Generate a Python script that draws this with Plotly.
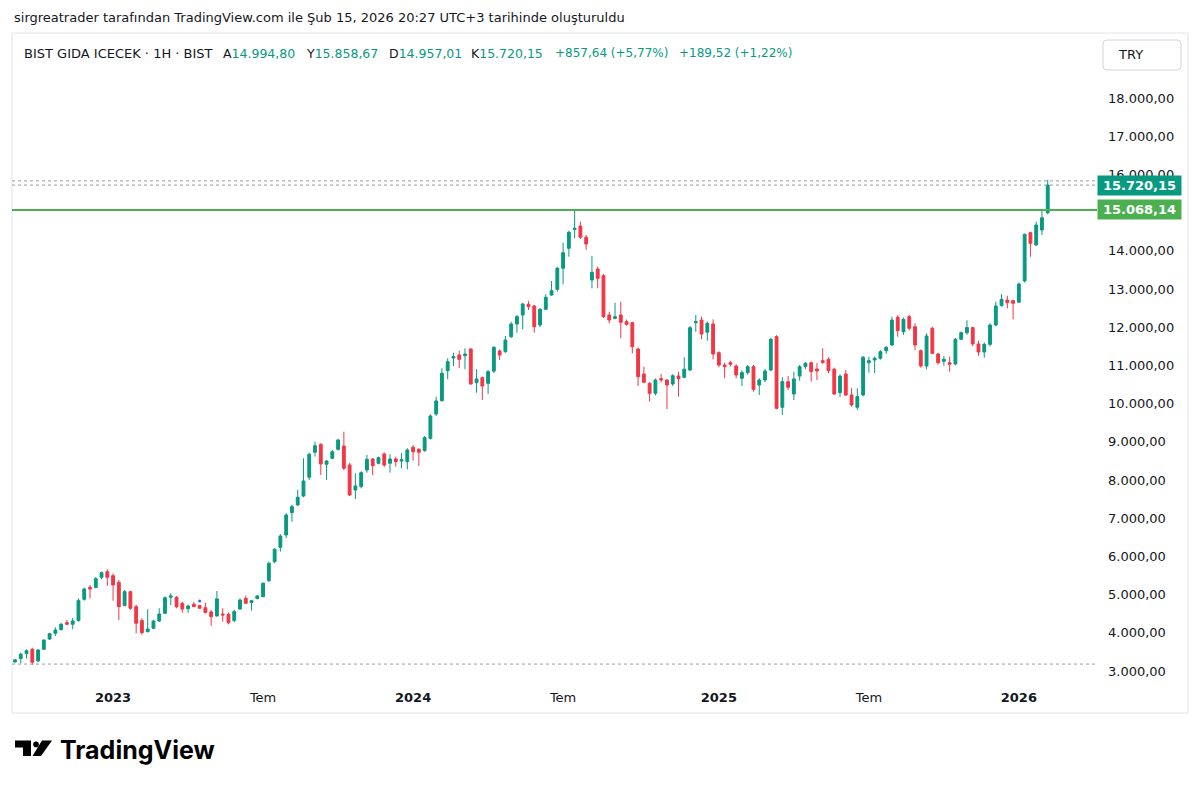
import pandas as pd
import plotly.graph_objects as go

# ---------------- data (weekly candles, BIST GIDA ICECEK) ----------------
start_date = "2022-09-05"
n_weeks = 180

opens = [3235, 3324, 3455, 3567, 3260, 3567, 3837, 3985, 4081, 4264,
         4222, 4318, 4876, 5190, 5182, 5452, 5599, 5494, 5321, 4709,
         5076, 4683, 4318, 4028, 4117, 4308, 4509, 4930, 4930, 4772,
         4630, 4745, 4712, 4657, 4546, 4441, 4491, 4483, 4318, 4622,
         4902, 4788, 4893, 4945, 5364, 5860, 6237, 6560, 7144, 7345,
         7580, 8070, 8725, 8934, 8410, 8567, 8803, 8889, 8392, 7738,
         7826, 8261, 8550, 8436, 8680, 8436, 8550, 8497, 8480, 8855,
         8803, 8768, 9090, 9727, 10075, 10861, 11193, 11272, 11254, 11429,
         10547, 10677, 10530, 10850, 11376, 11358, 11751, 12083, 12319, 12600,
         12555, 12057, 12468, 12843, 12992, 13542, 14065, 14560, 14649, 14356,
         13235, 13523, 13349, 12319, 12232, 12319, 12144, 12117, 11429, 10774,
         10530, 10269, 10652, 10617, 10513, 10722, 10688, 10879, 12117, 12188,
         11868, 12083, 11332, 11010, 11070, 10984, 10662, 10810, 10966, 10486,
         10617, 10879, 11751, 9903, 10573, 10251, 10722, 10966, 11070, 10905,
         11123, 11159, 10900, 10285, 10774, 10225, 9903, 10225, 11070, 11141,
         11185, 11385, 11534, 12259, 11882, 12275, 12013, 11385, 10984, 11971,
         11298, 11106, 11070, 11036, 11683, 11856, 11990, 11560, 11350, 11550,
         12057, 12565, 12712, 12695, 12654, 13209, 14474, 14152, 14544, 14994.80]

highs = [3300, 3481, 3567, 3610, 3570, 3820, 4000, 4142, 4260, 4334,
         4386, 4902, 5180, 5250, 5460, 5600, 5660, 5556, 5381, 5120,
         5100, 4730, 4380, 4615, 4340, 4641, 4950, 5034, 4960, 4810,
         4740, 4810, 4720, 4788, 4600, 5093, 4640, 4530, 4600, 4900,
         4970, 4858, 4990, 5320, 5860, 6220, 6580, 7130, 7350, 7738,
         8567, 8720, 9002, 8960, 8520, 8780, 9080, 9264, 8450, 8175,
         8230, 8654, 8570, 8610, 8720, 8672, 8610, 8700, 8830, 8915,
         8830, 9150, 9720, 10180, 10924, 11185, 11332, 11385, 11447, 11447,
         10900, 10706, 10880, 11500, 11420, 11769, 12140, 12320, 12640, 12686,
         12580, 12500, 12861, 13209, 13585, 14212, 14525, 15068.14, 14765, 14413,
         13864, 13585, 13390, 12406, 12641, 12668, 12200, 12144, 11465, 10966,
         10557, 10660, 10774, 10640, 10770, 10835, 11212, 12030, 12319, 12275,
         12144, 12206, 11370, 11070, 11120, 11030, 10870, 11010, 11010, 10662,
         10900, 11720, 11790, 10688, 10720, 10835, 11010, 11080, 11100, 11057,
         11447, 11212, 10940, 10760, 10879, 10400, 10400, 11250, 11230, 11230,
         11400, 11507, 12275, 12319, 12250, 12320, 12100, 11420, 11840, 12010,
         11330, 11245, 11230, 11720, 11890, 12180, 12000, 11650, 11600, 12100,
         12668, 12869, 12824, 12712, 13170, 14450, 14500, 14760, 15086, 15858.67]

lows = [3220, 3200, 3332, 3157, 3240, 3560, 3810, 3915, 4060, 4210,
        4090, 4290, 4840, 4902, 5170, 5400, 5225, 4840, 4334, 4700,
        4600, 3985, 3950, 4010, 4090, 4280, 4490, 4727, 4640, 4525,
        4520, 4680, 4630, 4510, 4183, 4420, 4291, 4220, 4280, 4600,
        4760, 4580, 4880, 4930, 5330, 5820, 6123, 6480, 6908, 7320,
        7546, 8000, 8610, 8130, 8000, 8540, 8770, 8261, 7580, 7502,
        7780, 8191, 8130, 8410, 8340, 8191, 8350, 8306, 8280, 8507,
        8366, 8740, 9060, 9675, 10050, 10636, 10984, 10924, 10900, 10490,
        10285, 10094, 10250, 10800, 11141, 11330, 11720, 11856, 11945, 12450,
        11856, 12000, 12450, 12820, 12930, 13123, 13845, 14327, 14303, 14022,
        13018, 13018, 12240, 12102, 12210, 11709, 12040, 11315, 10460, 10530,
        10050, 10210, 10557, 9858, 10460, 10180, 10662, 10850, 11882, 11683,
        11646, 11159, 10950, 10662, 10970, 10660, 10460, 10760, 10312, 10225,
        10560, 10850, 9850, 9701, 10355, 10094, 10600, 10900, 10573, 10617,
        11040, 10795, 10220, 10170, 10200, 9920, 9832, 10190, 10810, 10800,
        11150, 11300, 11507, 11751, 11800, 11920, 11403, 10940, 10900, 11290,
        11020, 10993, 10835, 11000, 11660, 11800, 11500, 11250, 11200, 11500,
        12030, 12540, 12494, 12206, 12630, 13170, 13845, 14130, 14413, 14957.01]

closes = [3290, 3439, 3530, 3227, 3549, 3810, 3975, 4072, 4222, 4222,
          4308, 4840, 5146, 5146, 5416, 5573, 5452, 5250, 4683, 5076,
          4641, 4248, 4003, 4098, 4308, 4491, 4918, 4963, 4683, 4622,
          4700, 4683, 4641, 4527, 4422, 4886, 4465, 4264, 4554, 4858,
          4771, 4840, 4963, 5295, 5819, 6185, 6533, 7083, 7302, 7546,
          7973, 8672, 8897, 8418, 8497, 8740, 9047, 8306, 7607, 7842,
          8191, 8541, 8375, 8584, 8392, 8550, 8480, 8530, 8785, 8740,
          8725, 9109, 9675, 10068, 10793, 11096, 11228, 11159, 11298, 10513,
          10644, 10460, 10835, 11473, 11272, 11664, 12083, 12275, 12607, 12539,
          12013, 12468, 12782, 12955, 13542, 13950, 14484, 14590, 14356, 14178,
          13437, 13280, 12275, 12188, 12275, 12128, 12075, 11489, 10704, 10557,
          10269, 10617, 10617, 10486, 10730, 10652, 10900, 11987, 12144, 11821,
          12101, 11298, 11010, 10967, 11030, 10748, 10810, 10966, 10374, 10617,
          10853, 11683, 9876, 10573, 10426, 10644, 10966, 11057, 10835, 10853,
          11080, 10861, 10251, 10722, 10225, 9963, 10180, 11212, 11123, 11185,
          11358, 11473, 12188, 11909, 12206, 11971, 11534, 10984, 11769, 11315,
          11070, 11159, 11030, 11683, 11856, 11990, 11560, 11350, 11550, 12057,
          12555, 12730, 12643, 12625, 13131, 14432, 14196, 14675, 14862.51, 15720.15]

resistance_level = 15068.14
last_price = 15720.15
upper_dotted_level = 15830
lower_dotted_level = 3180

dividend_dates = ["2023-04-17"]
dividend_values = [4830]

price_ticks = [3000, 4000, 5000, 6000, 7000, 8000, 9000, 10000,
               11000, 12000, 13000, 14000, 16000, 17000, 18000]
time_tick_dates = ["2023-01-02", "2023-07-03", "2024-01-01", "2024-07-01",
                   "2025-01-06", "2025-07-07", "2026-01-05"]
time_tick_labels = ["<b>2023</b>", "Tem", "<b>2024</b>", "Tem",
                    "<b>2025</b>", "Tem", "<b>2026</b>"]

title_text = "sirgreatrader tarafından TradingView.com ile Şub 15, 2026 20:27 UTC+3 tarihinde oluşturuldu"
symbol_text = "BIST GIDA ICECEK · 1H · BIST"
ohlc_labels = ["A", "Y", "D", "K"]
ohlc_values = ["14.994,80", "15.858,67", "14.957,01", "15.720,15"]
change_texts = ["+857,64 (+5,77%)", "+189,52 (+1,22%)"]

# ---------------- styling ----------------
UP = "#089981"
DOWN = "#f23645"
TXT = "#131722"
FONT = "DejaVu Sans"

W, H = 1200, 788
PL, PR, PT, PB = 12, 1097, 33, 680  # plot area in pixels


def fx(px):
    return (px - PL) / (PR - PL)


def fy(py):
    return (PB - py) / (PB - PT)


dates = pd.date_range(start_date, periods=n_weeks, freq="7D")

fig = go.Figure()
fig.add_trace(go.Candlestick(
    x=dates, open=opens, high=highs, low=lows, close=closes,
    increasing=dict(line=dict(color=UP, width=1), fillcolor=UP),
    decreasing=dict(line=dict(color=DOWN, width=1), fillcolor=DOWN),
    whiskerwidth=0, showlegend=False, hoverinfo="skip",
))
fig.add_trace(go.Scatter(
    x=pd.to_datetime(dividend_dates), y=dividend_values, mode="markers",
    marker=dict(color="#2962ff", size=3, symbol="circle"),
    showlegend=False, hoverinfo="skip",
))

shapes = []
shapes.append(dict(type="line", xref="paper", yref="y", x0=0, x1=1,
                   y0=resistance_level, y1=resistance_level,
                   line=dict(color="#4caf50", width=2)))
for lvl in (upper_dotted_level, last_price, lower_dotted_level):
    shapes.append(dict(type="line", xref="paper", yref="y", x0=0, x1=1,
                       y0=lvl, y1=lvl, line=dict(color="#9598a1", width=1, dash="dot")))
# frame
shapes.append(dict(type="rect", xref="paper", yref="paper",
                   x0=fx(12), x1=fx(1188), y0=fy(713), y1=fy(33),
                   line=dict(color="#e0e3eb", width=1), layer="below"))


def rounded_rect(x0, y0, x1, y1, r):
    p = [
        f"M {fx(x0 + r)} {fy(y0)}", f"L {fx(x1 - r)} {fy(y0)}",
        f"Q {fx(x1)} {fy(y0)} {fx(x1)} {fy(y0 + r)}", f"L {fx(x1)} {fy(y1 - r)}",
        f"Q {fx(x1)} {fy(y1)} {fx(x1 - r)} {fy(y1)}", f"L {fx(x0 + r)} {fy(y1)}",
        f"Q {fx(x0)} {fy(y1)} {fx(x0)} {fy(y1 - r)}", f"L {fx(x0)} {fy(y0 + r)}",
        f"Q {fx(x0)} {fy(y0)} {fx(x0 + r)} {fy(y0)}", "Z",
    ]
    return " ".join(p)


shapes.append(dict(type="path", xref="paper", yref="paper",
                   path=rounded_rect(1103, 40, 1181, 70, 4),
                   line=dict(color="#d1d4dc", width=1)))
# TradingView logo icon
shapes.append(dict(type="path", xref="paper", yref="paper",
                   path=f"M {fx(15)} {fy(740.5)} L {fx(31)} {fy(740.5)} L {fx(31)} {fy(756)} "
                        f"L {fx(23)} {fy(756)} L {fx(23)} {fy(747.5)} L {fx(15)} {fy(747.5)} Z",
                   fillcolor="#000000", line=dict(width=0)))
shapes.append(dict(type="circle", xref="paper", yref="paper",
                   x0=fx(33.2), x1=fx(38.8), y0=fy(747.2), y1=fy(741.6),
                   fillcolor="#000000", line=dict(width=0)))
shapes.append(dict(type="path", xref="paper", yref="paper",
                   path=f"M {fx(42)} {fy(740.5)} L {fx(52)} {fy(740.5)} L {fx(41)} {fy(756)} "
                        f"L {fx(32.5)} {fy(756)} Z",
                   fillcolor="#000000", line=dict(width=0)))

ann = []


def text(px, py, s, size=13, color=TXT, xanchor="left", bold=False, family=FONT, **kw):
    ann.append(dict(xref="paper", yref="paper", x=fx(px), y=fy(py), text=s,
                    showarrow=False, xanchor=xanchor, yanchor="middle",
                    font=dict(size=size, color=color, family=family,
                              weight="bold" if bold else "normal"), **kw))


text(12, 18, title_text, size=13)
text(22, 53, symbol_text, size=13)
for px, lab, val in zip([221, 304, 387, 469], ohlc_labels, ohlc_values):
    text(px, 53, f"{lab}<span style='color:{UP}'>{val}</span>", size=12.5)
for px, s in zip([553, 677], change_texts):
    text(px, 53, s, size=12, color=UP)
text(1116, 55, "TRY", size=13, xanchor="left")
text(58, 750, "TradingView", size=25, color="#000000", bold=True, family="Inter")

# price labels on axis
for lvl, col in ((last_price, UP), (resistance_level, "#4caf50")):
    lab = f"{lvl:,.2f}".replace(",", "X").replace(".", ",").replace("X", ".")
    ann.append(dict(xref="paper", yref="y", x=1, y=lvl, text=lab, showarrow=False,
                    xanchor="left", yanchor="middle", bgcolor=col, width=79, height=15,
                    borderpad=2, align="center",
                    font=dict(size=13, color="#ffffff", family=FONT, weight="bold")))

fig.update_layout(
    width=W, height=H,
    margin=dict(l=PL, r=W - PR, t=PT, b=H - PB, pad=0),
    paper_bgcolor="#ffffff", plot_bgcolor="#ffffff",
    separators=",.",
    font=dict(family=FONT, size=13, color=TXT),
    shapes=shapes, annotations=ann,
    xaxis=dict(
        type="date", range=["2022-09-01 08:40", "2026-04-09 19:00"],
        rangeslider=dict(visible=False), showgrid=False, zeroline=False,
        tickmode="array", tickvals=pd.to_datetime(time_tick_dates), ticktext=time_tick_labels,
        ticks="", showline=False, tickfont=dict(size=13, color=TXT), ticklabelstandoff=8,
    ),
    yaxis=dict(
        side="right", range=[2763, 19702], showgrid=False, zeroline=False,
        tickmode="array", tickvals=price_ticks, tickformat=",.2f",
        ticks="", showline=False, tickfont=dict(size=13, color=TXT), ticklabelstandoff=10,
    ),
)

fig.write_html("out.html")
